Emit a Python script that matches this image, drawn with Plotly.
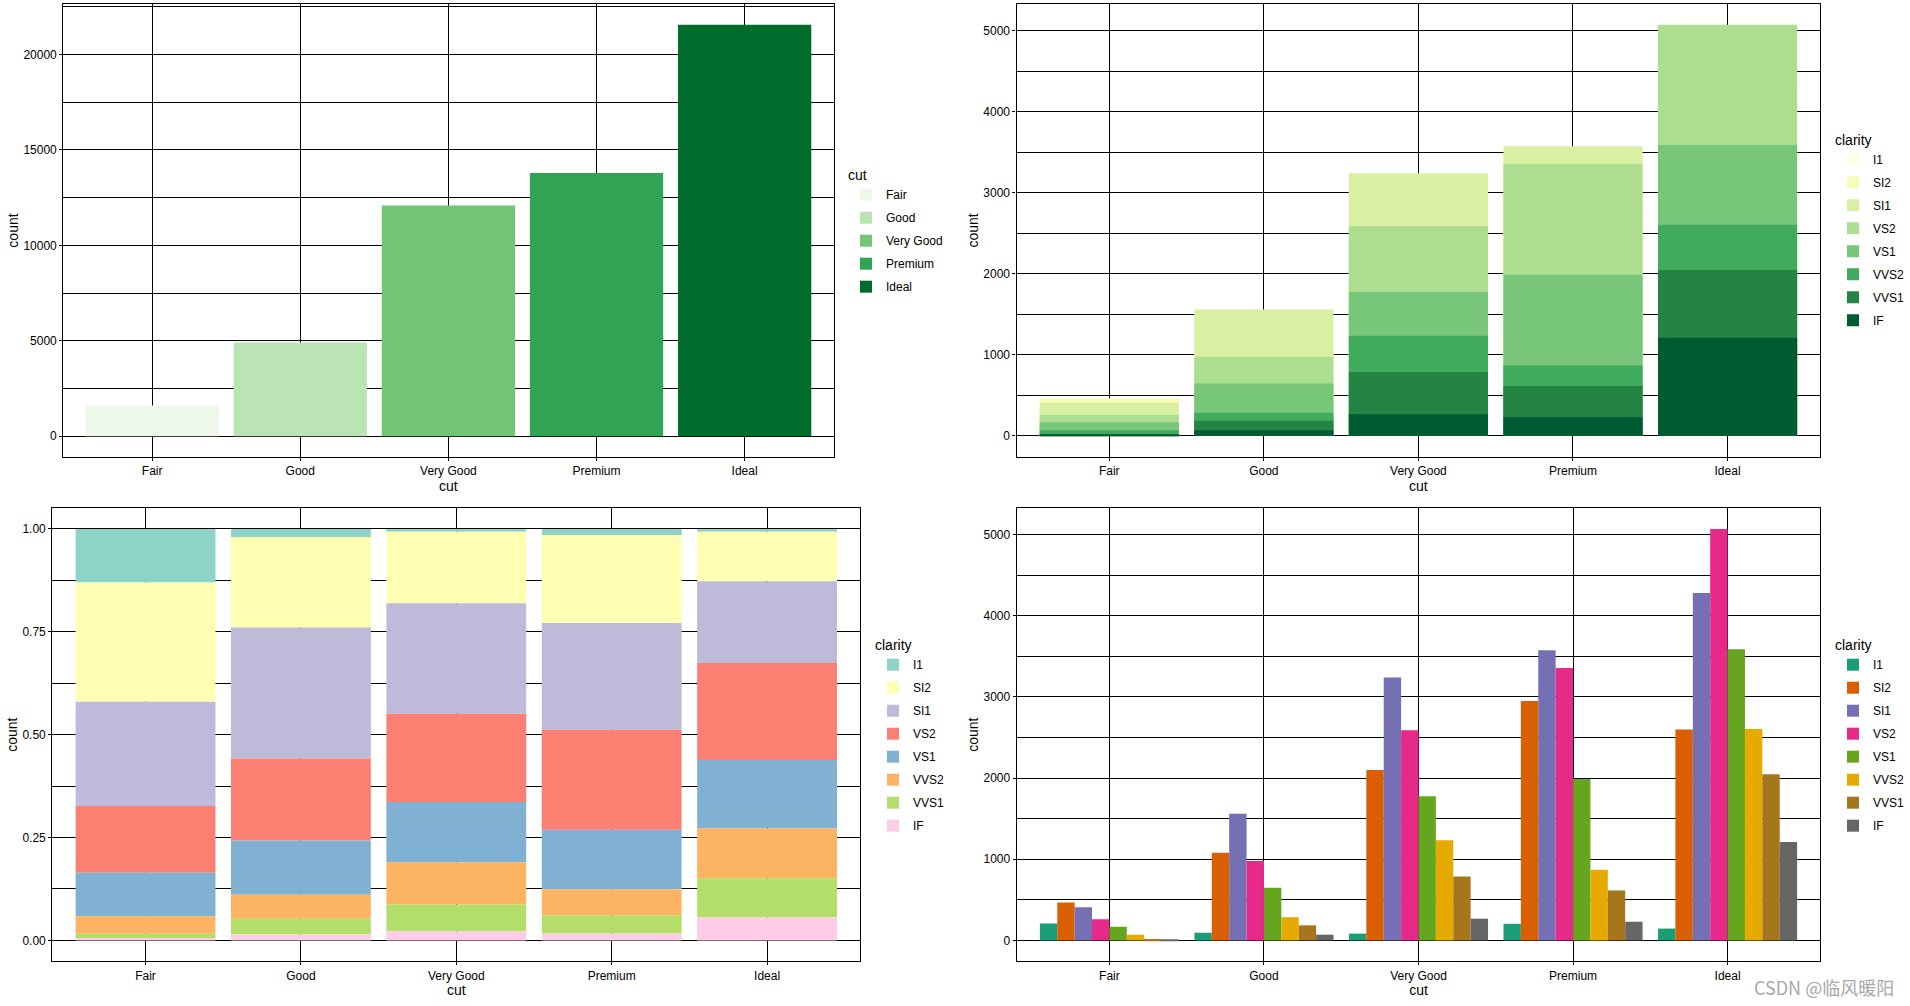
import numpy as np
import plotly.graph_objects as go

# ---------------- data (diamonds) ----------------
cut_levels = ["Fair", "Good", "Very Good", "Premium", "Ideal"]
cut_counts = [1610, 4906, 12082, 13791, 21551]

clarity_levels = ["I1", "SI2", "SI1", "VS2", "VS1", "VVS2", "VVS1", "IF"]
# counts by clarity, one list per clarity, values in cut order
count_I1 = [210, 96, 84, 205, 146]
count_SI2 = [466, 1081, 2100, 2949, 2598]
count_SI1 = [408, 1560, 3240, 3575, 4282]
count_VS2 = [261, 978, 2591, 3357, 5071]
count_VS1 = [170, 648, 1775, 1989, 3589]
count_VVS2 = [69, 286, 1235, 870, 2606]
count_VVS1 = [17, 186, 789, 616, 2047]
count_IF = [9, 71, 268, 230, 1212]

clarity_counts = [count_I1, count_SI2, count_SI1, count_VS2,
                  count_VS1, count_VVS2, count_VVS1, count_IF]

# palettes
greens5 = ["#EDF8E9", "#BAE4B3", "#74C476", "#31A354", "#006D2C"]
ylgn8 = ["#FFFFE5", "#F7FCB9", "#D9F0A3", "#ADDD8E", "#78C679", "#41AB5D", "#238443", "#005A32"]
set3_8 = ["#8DD3C7", "#FFFFB3", "#BEBADA", "#FB8072", "#80B1D3", "#FDB462", "#B3DE69", "#FCCDE5"]
dark2_8 = ["#1B9E77", "#D95F02", "#7570B3", "#E7298A", "#66A61E", "#E6AB02", "#A6761D", "#666666"]

FONT = "Liberation Sans, Arial, sans-serif"
W, H = 1910, 1006
LW = 1.2


def px(x):
    return x / W


def py(y):
    return 1 - y / H


def xd(a, b):
    return [px(a), px(b)]


def yd(top, bottom):
    return [py(bottom), py(top)]


fig = go.Figure()

# ---- panel 1: count by cut ----
for i, c in enumerate(cut_levels):
    fig.add_trace(go.Bar(
        x=[c], y=[cut_counts[i]], name=c, width=0.9,
        marker=dict(color=greens5[i], line=dict(width=0)),
        xaxis="x", yaxis="y", legend="legend", legendgroup="p1_" + c,
    ))

# ---- panel 2: identity (overlapping) bars by clarity ----
for j, cl in enumerate(clarity_levels):
    fig.add_trace(go.Bar(
        x=cut_levels, y=clarity_counts[j], name=cl, width=0.9,
        marker=dict(color=ylgn8[j], line=dict(width=0)),
        xaxis="x2", yaxis="y2", legend="legend2", legendgroup="p2_" + cl,
    ))

# ---- panel 3: filled proportions ----
counts_arr = np.array(clarity_counts, dtype=float)        # (8, 5)
props = counts_arr / counts_arr.sum(axis=0, keepdims=True)
# first level on top (ggplot stacking): base = 1 - cumulative sum through this level
cum = np.cumsum(props, axis=0)
for j, cl in enumerate(clarity_levels):
    fig.add_trace(go.Bar(
        x=cut_levels, y=props[j], base=1 - cum[j], name=cl, width=0.9,
        marker=dict(color=set3_8[j], line=dict(width=0)),
        xaxis="x3", yaxis="y3", legend="legend3", legendgroup="p3_" + cl,
    ))

# ---- panel 4: dodged bars ----
n = len(clarity_levels)
bw = 0.9 / n
for j, cl in enumerate(clarity_levels):
    fig.add_trace(go.Bar(
        x=cut_levels, y=clarity_counts[j], name=cl, width=bw, offset=-0.45 + j * bw,
        marker=dict(color=dark2_8[j], line=dict(width=0)),
        xaxis="x4", yaxis="y4", legend="legend4", legendgroup="p4_" + cl,
    ))


def xaxis_cfg(domain, anchor):
    return dict(
        domain=domain, anchor=anchor, type="category",
        categoryorder="array", categoryarray=cut_levels, range=[-0.6, 4.6],
        showgrid=True, gridcolor="black", gridwidth=LW,
        showline=True, mirror=True, linecolor="black", linewidth=LW,
        ticks="outside", ticklen=3, tickcolor="black", tickwidth=LW,
        tickfont=dict(size=12, color="black", family=FONT),
        title=dict(text="cut", font=dict(size=14, color="black", family=FONT), standoff=2),
        zeroline=False, fixedrange=True, automargin=False,
    )


def yaxis_cfg(domain, anchor, ymax, dtick, mdtick, fmt):
    return dict(
        domain=domain, anchor=anchor, range=[-0.05 * ymax, 1.05 * ymax],
        tickmode="linear", tick0=0, dtick=dtick, tickformat=fmt,
        showgrid=True, gridcolor="black", gridwidth=LW,
        minor=dict(tickmode="linear", tick0=0, dtick=mdtick, showgrid=True,
                   gridcolor="black", gridwidth=LW),
        showline=True, mirror=True, linecolor="black", linewidth=LW,
        ticks="outside", ticklen=3, tickcolor="black", tickwidth=LW,
        tickfont=dict(size=12, color="black", family=FONT),
        title=dict(text="count", font=dict(size=14, color="black", family=FONT), standoff=1),
        zeroline=False, fixedrange=True, automargin=False,
    )


max1 = max(cut_counts)
max2 = float(counts_arr.max())

fig.update_layout(
    width=W, height=H,
    margin=dict(l=0, r=0, t=0, b=0, autoexpand=False),
    paper_bgcolor="white", plot_bgcolor="white",
    font=dict(family=FONT, color="black"),
    barmode="overlay",
    showlegend=True,
    xaxis=xaxis_cfg(xd(63.3, 833.5), "y"),
    yaxis=yaxis_cfg(yd(4.3, 456.7), "x", max1, 5000, 2500, "d"),
    xaxis2=xaxis_cfg(xd(1016.5, 1820.3), "y2"),
    yaxis2=yaxis_cfg(yd(4.3, 456.5), "x2", max2, 1000, 500, "d"),
    xaxis3=xaxis_cfg(xd(52.3, 860.3), "y3"),
    yaxis3=yaxis_cfg(yd(508.3, 961), "x3", 1.0, 0.25, 0.125, ".2f"),
    xaxis4=xaxis_cfg(xd(1016.7, 1820.3), "y4"),
    yaxis4=yaxis_cfg(yd(508.3, 961), "x4", max2, 1000, 500, "d"),
)

leg_common = dict(
    xanchor="left", yanchor="top", bgcolor="rgba(0,0,0,0)",
    font=dict(size=12, color="black", family=FONT),
    tracegroupgap=4, itemclick=False, itemdoubleclick=False,
)
fig.update_layout(
    legend=dict(x=px(846), y=py(162), title=dict(text="cut", font=dict(size=14)), **leg_common),
    legend2=dict(x=px(1833), y=py(126.5), title=dict(text="clarity", font=dict(size=14)), **leg_common),
    legend3=dict(x=px(873), y=py(632), title=dict(text="clarity", font=dict(size=14)), **leg_common),
    legend4=dict(x=px(1833), y=py(632), title=dict(text="clarity", font=dict(size=14)), **leg_common),
)

fig.add_annotation(
    text="CSDN @临风暖阳", xref="paper", yref="paper",
    x=px(1896), y=py(987), xanchor="right", yanchor="middle", showarrow=False,
    font=dict(size=18, color="#a8a8a8", family="Noto Sans CJK SC, Liberation Sans"),
)

# the reference chart starts at the window's top-left corner: drop the page's default body margin
fig.write_html("out.html", config={"displayModeBar": False},
               post_script="document.body.style.margin='0px';")
